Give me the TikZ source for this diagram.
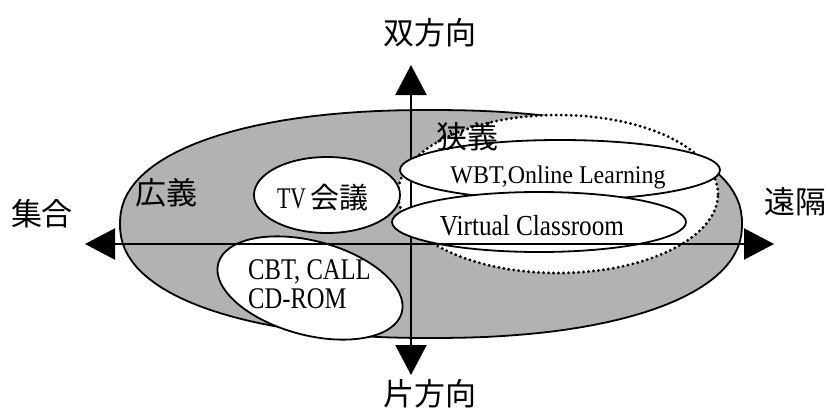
\documentclass[tikz,border=0pt]{standalone}
\usepackage{fontspec}
\setmainfont{Liberation Serif}
\newfontfamily\jpfont{Noto Sans CJK JP}
\newfontfamily\fwbt[FakeStretch=0.94]{Liberation Serif}
\newfontfamily\fvirt[FakeStretch=0.87]{Liberation Serif}
\newfontfamily\fcbt[FakeStretch=0.82]{Liberation Serif}
\newfontfamily\ftv[FakeStretch=0.72]{Liberation Serif}
\usetikzlibrary{arrows.meta,shapes.geometric}
\definecolor{shadegray}{gray}{0.7}
\begin{document}
\begin{tikzpicture}[x=1pt,y=-1pt,
  bigshape/.style={fill=shadegray, draw=black, line width=1.8pt},
  narrowset/.style={fill=white, draw=black, line width=3.2pt, dash pattern=on 0pt off 5pt, line cap=round},
  oval/.style={ellipse, draw=black, fill=white, line width=1.8pt, inner sep=0pt},
  axisline/.style={line width=2.2pt, {Triangle[width=31pt,length=30pt]}-{Triangle[width=31pt,length=30pt]}},
  jplabel/.style={font=\jpfont\fontsize{31}{36}\selectfont, inner sep=0pt},
  txt/.style={inner sep=0pt}]
\useasboundingbox (0,0) rectangle (828,410);
% broad sense region
\fill[bigshape] plot[domain=1:361,samples=121]
  ({431+311*sign(cos(\x))*pow(abs(cos(\x)),0.9)},{224+114*sign(sin(\x))*pow(abs(sin(\x)),0.9)}) -- cycle;
% narrow sense region
\path[narrowset] (558,194) ellipse [x radius=160pt, y radius=79pt];
% vertical axis
\coordinate (vtop) at (411,65);
\coordinate (vbot) at (411,375);
\draw[axisline] (vbot) -- (vtop);
% ovals
\node[oval, minimum width=320pt, minimum height=60pt] (wbt) at (560,170) {};
\node[oval, minimum width=294pt, minimum height=60pt] (virt) at (539,222) {};
\node[oval, minimum width=146pt, minimum height=76pt] (tv) at (327,195) {};
\draw[fill=white, line width=1.8pt, rotate around={-15:(310,288)}] (310,288) ellipse [x radius=95pt, y radius=47pt];
\coordinate (cbt) at (310,288);
% horizontal axis
\coordinate (hleft) at (85,244);
\coordinate (hright) at (774,244);
\draw[axisline] (hleft) -- (hright);
% texts
\node[txt, anchor=base] (wbtl) at (558,183) {\fwbt\fontsize{25.5}{30}\selectfont WBT,Online Learning};
\node[txt, anchor=base] (virtl) at (532,235) {\fvirt\fontsize{29}{34}\selectfont Virtual Classroom};
\node[txt, anchor=base] (tvl) at (323,208) {\ftv\fontsize{30}{34}\selectfont TV\,\jpfont\fontsize{29}{34}\selectfont 会議};
\node[txt, anchor=base west] (cbt1) at (248,279) {\fcbt\fontsize{30}{34}\selectfont CBT, CALL};
\node[txt, anchor=base west] (cbt2) at (248,308) {\fcbt\fontsize{30}{34}\selectfont CD-ROM};
\node[jplabel] (up) at (430,33) {双方向};
\node[jplabel] (down) at (430,394) {片方向};
\node[jplabel] (left) at (42,214) {集合};
\node[jplabel] (right) at (795,202) {遠隔};
\node[jplabel] (broad) at (166,193) {広義};
\node[jplabel] (narrow) at (467,137) {狭義};
\end{tikzpicture}
\end{document}
